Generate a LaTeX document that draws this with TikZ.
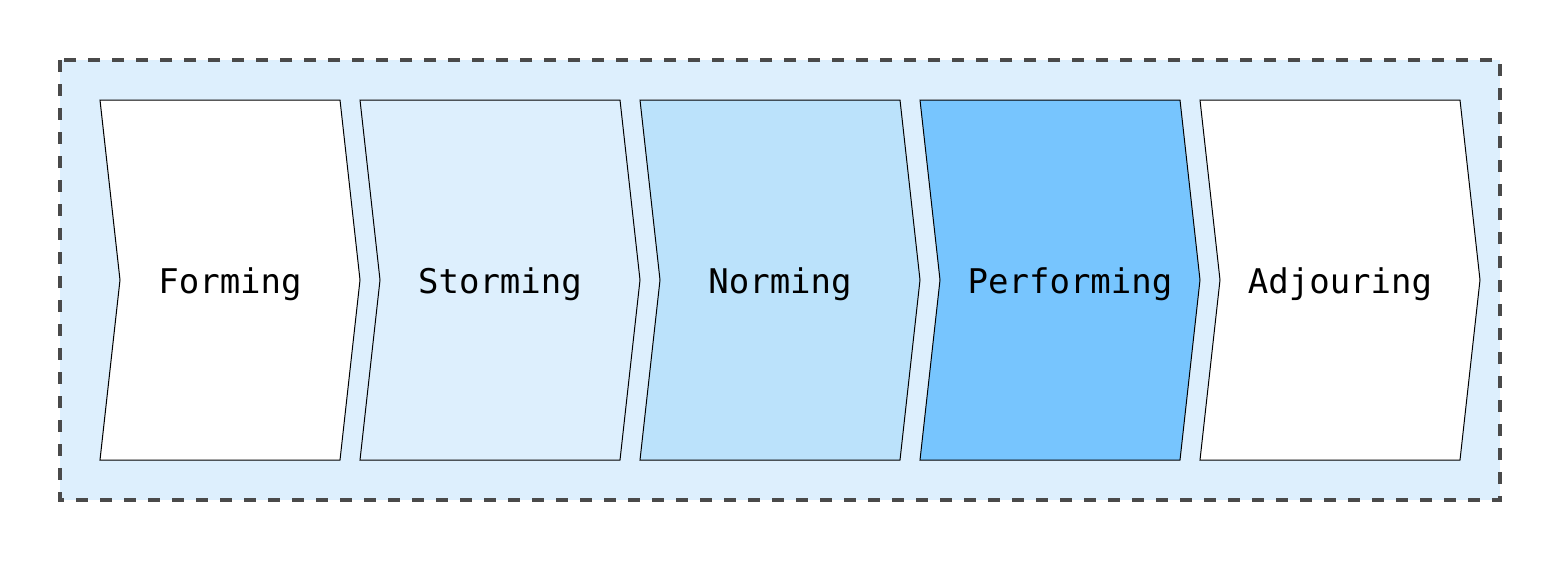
\documentclass[tikz,border=0pt]{standalone}
\usepackage{fontspec}
\newfontfamily\stagefont{DejaVu Sans Mono}
\definecolor{bgblue}{HTML}{DDEFFD}
\definecolor{midblue}{HTML}{BBE2FB}
\definecolor{deepblue}{HTML}{77C5FE}
\definecolor{dashgray}{HTML}{4A4A4A}
\tikzset{
  frame/.style={draw=dashgray, line width=3.5pt, dash pattern=on 12pt off 12pt, fill=bgblue},
  chev/.style={draw=black, line width=1pt, line join=miter},
  label/.style={font=\stagefont\fontsize{34}{40}\selectfont, text=black, inner sep=0pt}
}
\newcommand{\chevron}[3]{% left, right, fill
  \path[chev, fill=#3] (#1,100) -- (#2,100) -- ({#2+20},280) -- (#2,460) -- (#1,460) -- ({#1+20},280) -- cycle;
}
\begin{document}
\begin{tikzpicture}[x=1pt,y=-1pt]
\useasboundingbox (0,0) rectangle (1560,560);
\path[frame] (60,60) rectangle (1500,500);
\chevron{100}{340}{white}
\chevron{360}{620}{bgblue}
\chevron{640}{900}{midblue}
\chevron{920}{1180}{deepblue}
\chevron{1200}{1460}{white}
\node[label] (forming) at (230,284) {Forming};
\node[label] (storming) at (500,284) {Storming};
\node[label] (norming) at (780,284) {Norming};
\node[label] (performing) at (1070,284) {Performing};
\node[label] (adjouring) at (1340,284) {Adjouring};
\end{tikzpicture}
\end{document}
